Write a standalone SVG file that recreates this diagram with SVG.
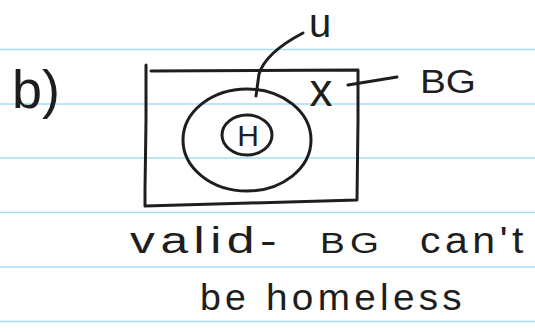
<svg xmlns="http://www.w3.org/2000/svg" width="535" height="332" viewBox="0 0 535 332">
  <style>
    .ink { fill: none; stroke: #1e1e1e; stroke-width: 3; stroke-linecap: round; stroke-linejoin: round; }
    .rule { stroke: #a6def0; stroke-width: 1.5; }
    .hand { font-family: "Liberation Sans", "DejaVu Sans", sans-serif; fill: #1e1e1e; }
    .note { letter-spacing: 4px; }
  </style>
  <rect x="0" y="0" width="535" height="332" fill="#ffffff"/>
  <g id="paper-rules">
    <line class="rule" x1="0" y1="49.5" x2="535" y2="49.5"/>
    <line class="rule" x1="0" y1="104" x2="535" y2="104"/>
    <line class="rule" x1="0" y1="158" x2="535" y2="158"/>
    <line class="rule" x1="0" y1="212.5" x2="535" y2="212.5"/>
    <line class="rule" x1="0" y1="267" x2="535" y2="267"/>
    <line class="rule" x1="0" y1="321.5" x2="535" y2="321.5"/>
  </g>

  <g id="label-b">
    <text class="hand" x="12" y="108" font-size="54">b)</text>
  </g>

  <g id="box-BG">
    <path class="ink" d="M146,65 L146,120 L145,190 L145,206 M151,71 L358,70 L358,120 L357,200 M145,206 L250,203 L357,200"/>
  </g>

  <g id="ellipse-u">
    <ellipse class="ink" cx="247" cy="140" rx="64" ry="51"/>
  </g>

  <g id="circle-H">
    <ellipse class="ink" cx="247" cy="135" rx="25" ry="20"/>
    <text class="hand" x="248" y="146" font-size="30" text-anchor="middle">H</text>
  </g>

  <g id="x-mark">
    <text class="hand" x="321" y="106" font-size="46" text-anchor="middle">x</text>
  </g>

  <g id="connectors">
    <path class="ink" d="M303,33 C282,44 264,58 259,74 L256,96"/>
    <path class="ink" d="M348,85 L397,77"/>
  </g>

  <g id="label-u">
    <text class="hand" x="320" y="37" font-size="40" text-anchor="middle">u</text>
  </g>

  <g id="label-BG">
    <text class="hand" x="420" y="93" font-size="34" textLength="56" lengthAdjust="spacingAndGlyphs">BG</text>
  </g>

  <g id="note">
    <text class="hand note" x="130" y="253" font-size="36" textLength="152" lengthAdjust="spacingAndGlyphs">valid-</text>
    <text class="hand note" x="320" y="253" font-size="29" textLength="64" lengthAdjust="spacingAndGlyphs">BG</text>
    <text class="hand note" x="420" y="253" font-size="36" textLength="108" lengthAdjust="spacingAndGlyphs">can't</text>
    <text class="hand note" x="200" y="310" font-size="36" textLength="50" lengthAdjust="spacingAndGlyphs">be</text>
    <text class="hand note" x="266" y="310" font-size="36" textLength="200" lengthAdjust="spacingAndGlyphs">homeless</text>
  </g>
</svg>
